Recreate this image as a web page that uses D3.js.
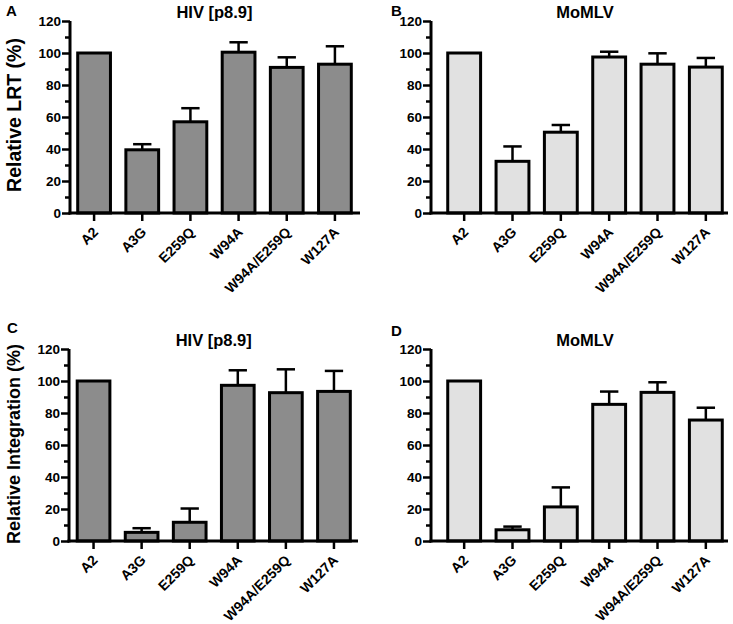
<!DOCTYPE html>
<html><head><meta charset="utf-8">
<script src="https://cdn.jsdelivr.net/npm/d3@7"></script>
<style>
body{margin:0;background:#fff;}
svg text{font-family:"Liberation Sans",Arial,Helvetica,sans-serif;font-weight:bold;fill:#000;}
</style></head>
<body>
<svg id="chart" width="733" height="624"></svg>
<script>
const categories = ["A2","A3G","E259Q","W94A","W94A/E259Q","W127A"];
const yTicks = [0,20,40,60,80,100,120];
const minorTicks = [10,30,50,70,90,110];

const lrtHIV = [100, 39.5, 57, 100.5, 91, 93];
const lrtHIVErr = [100, 43, 65.5, 106.7, 97.3, 104.2];
const lrtMLV = [100, 32.3, 50.5, 97.5, 93, 91.2];
const lrtMLVErr = [100, 41.6, 55, 100.8, 99.8, 96.9];
const intHIV = [100, 5.4, 11.7, 97.3, 92.7, 93.5];
const intHIVErr = [100, 8, 20.3, 106.7, 107.3, 106.3];
const intMLV = [100, 7, 21.3, 85.4, 92.9, 75.6];
const intMLVErr = [100, 9, 33.5, 93.4, 99.2, 83.3];

const panels = [
  {letter:"A", title:"HIV [p8.9]", vals:lrtHIV, err:lrtHIVErr, fill:"#8c8c8c",
   axisX:70, axisEnd:360, band:[70,359], y0:213, y1:21, ylabel:"Relative LRT (%)", labelSize:19.5, letterPos:[6,16], labelPos:[21,115]},
  {letter:"B", title:"MoMLV", vals:lrtMLV, err:lrtMLVErr, fill:"#e1e1e1",
   axisX:431, axisEnd:728, band:[440,730], y0:213, y1:21, letterPos:[391,16]},
  {letter:"C", title:"HIV [p8.9]", vals:intHIV, err:intHIVErr, fill:"#8c8c8c",
   axisX:69, axisEnd:358, band:[69.5,358], y0:541, y1:349, ylabel:"Relative Integration (%)", labelSize:18, letterPos:[7,333], labelPos:[20,444]},
  {letter:"D", title:"MoMLV", vals:intMLV, err:intMLVErr, fill:"#e1e1e1",
   axisX:431, axisEnd:728, band:[440,730], y0:541, y1:349, letterPos:[391,336]}
];

const svg = d3.select("#chart");

panels.forEach(p => {
  const g = svg.append("g");
  const x = d3.scaleBand().domain(categories).range(p.band).paddingInner(0.32).paddingOuter(0.16);
  const y = d3.scaleLinear().domain([0,120]).range([p.y0, p.y1]);

  g.selectAll("rect.bar").data(categories).enter().append("rect")
    .attr("x", d => x(d))
    .attr("y", (d,i) => y(p.vals[i]))
    .attr("width", x.bandwidth())
    .attr("height", (d,i) => y(0) - y(p.vals[i]))
    .attr("fill", p.fill).attr("stroke", "#000").attr("stroke-width", 3);

  const capW = x.bandwidth()*0.56;
  categories.forEach((c,i) => {
    if (p.err[i] > p.vals[i] + 0.5) {
      const cx = x(c) + x.bandwidth()/2;
      g.append("line").attr("x1",cx).attr("x2",cx).attr("y1",y(p.vals[i])).attr("y2",y(p.err[i]))
        .attr("stroke","#000").attr("stroke-width",2.5);
      g.append("line").attr("x1",cx-capW/2).attr("x2",cx+capW/2).attr("y1",y(p.err[i])).attr("y2",y(p.err[i]))
        .attr("stroke","#000").attr("stroke-width",2.5);
    }
  });

  const yAxis = d3.axisLeft(y).tickValues(yTicks).tickSize(8).tickPadding(1).tickFormat(d3.format("d"));
  const ya = g.append("g").attr("transform", `translate(${p.axisX},0)`).call(yAxis);
  ya.attr("font-size", null).attr("font-family", null);
  ya.select(".domain").remove();
  ya.selectAll(".tick line").attr("stroke","#000").attr("stroke-width",2.5);
  ya.selectAll(".tick text").style("font-size","13.5px").style("fill","#000");
  const yMinor = d3.axisLeft(y).tickValues(minorTicks).tickSize(5).tickFormat("");
  const ym = g.append("g").attr("transform", `translate(${p.axisX},0)`).call(yMinor);
  ym.select(".domain").remove();
  ym.selectAll(".tick line").attr("stroke","#000").attr("stroke-width",2.5);
  g.append("line").attr("x1",p.axisX).attr("x2",p.axisX).attr("y1",y(0)+1.5).attr("y2",y(120))
    .attr("stroke","#000").attr("stroke-width",3);

  const xAxis = d3.axisBottom(x).tickSize(8).tickFormat("");
  const xa = g.append("g").attr("transform", `translate(0,${p.y0})`).call(xAxis);
  xa.select(".domain").remove();
  xa.selectAll(".tick line").attr("stroke","#000").attr("stroke-width",2.5);
  g.append("line").attr("x1",p.axisX-1.5).attr("x2",p.axisEnd).attr("y1",p.y0).attr("y2",p.y0)
    .attr("stroke","#000").attr("stroke-width",3);
  g.selectAll("text.xl").data(categories).enter().append("text")
    .attr("class","xl")
    .attr("transform", d => `translate(${x(d)+x.bandwidth()/2+5},${p.y0+20}) rotate(-45)`)
    .attr("text-anchor","end")
    .style("font-size","14px")
    .text(d => d);

  g.append("text").attr("x",(p.band[0]+p.band[1])/2).attr("y",p.y1-3)
    .attr("text-anchor","middle").style("font-size","16.5px").text(p.title);
  g.append("text").attr("x",p.letterPos[0]).attr("y",p.letterPos[1]).style("font-size","15px").text(p.letter);
  if (p.ylabel) {
    g.append("text").attr("transform",`translate(${p.labelPos[0]},${p.labelPos[1]}) rotate(-90)`)
      .attr("text-anchor","middle").style("font-size",p.labelSize+"px").text(p.ylabel);
  }
});
</script>
</body></html>
